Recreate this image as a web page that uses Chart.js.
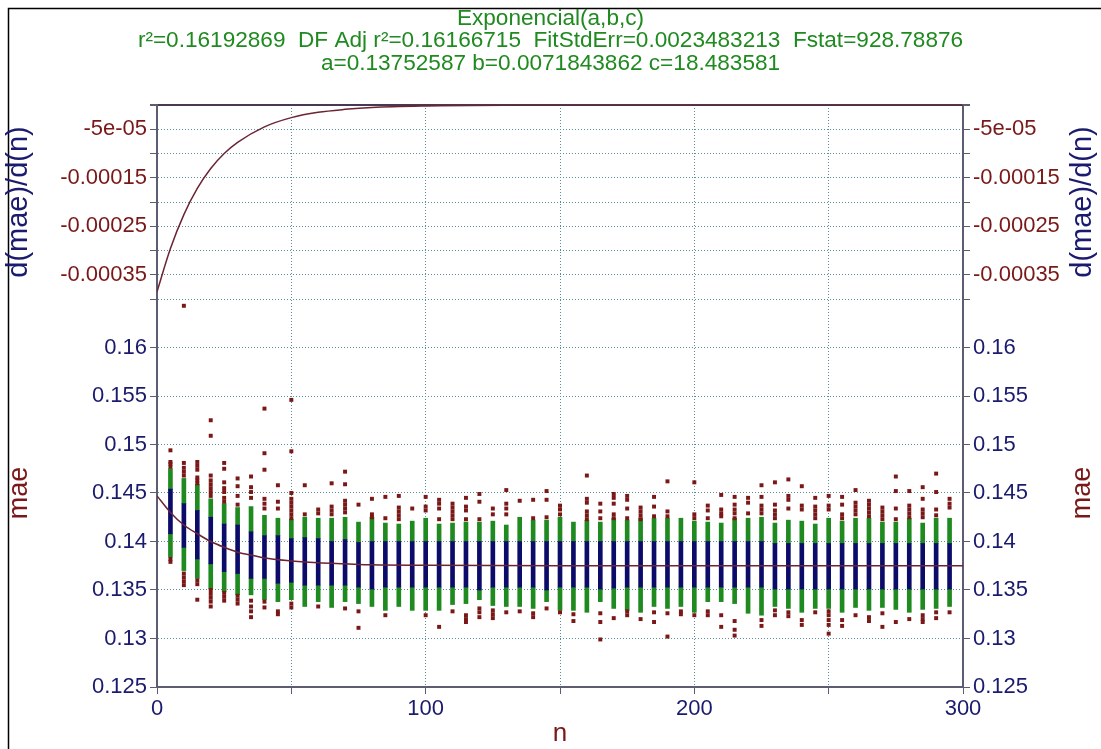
<!DOCTYPE html>
<html>
<head>
<meta charset="utf-8">
<script src="https://cdn.jsdelivr.net/npm/chart.js@4.4.1/dist/chart.umd.min.js"></script>
<style>
  html, body { margin: 0; padding: 0; background: #fff; }
</style>
</head>
<body>
<canvas id="fitchart" width="1101" height="749"></canvas>
<script>
// sample sizes (one column of points per n)
var nCols = [5,10,15,20,25,30,35,40,45,50,55,60,65,70,75,80,85,90,95,100,
             105,110,115,120,125,130,135,140,145,150,155,160,165,170,175,180,185,190,195,200,
             205,210,215,220,225,230,235,240,245,250,255,260,265,270,275,280,285,290,295];

// extent of the green / blue bands in every column
var greenHi = [0.1475,0.1465,0.1459,0.1444,0.1439,0.1435,0.1436,0.1427,0.1424,0.1423,
               0.1425,0.1424,0.1424,0.1425,0.1420,0.1425,0.1419,0.1418,0.1421,0.1424,
               0.1418,0.1419,0.1420,0.1420,0.1421,0.1417,0.1425,0.1422,0.1422,0.1425,
               0.1420,0.1422,0.1420,0.1424,0.1422,0.1424,0.1424,0.1424,0.1424,0.1421,
               0.1420,0.1419,0.1424,0.1424,0.1425,0.1419,0.1422,0.1421,0.1418,0.1424,
               0.1421,0.1424,0.1424,0.1420,0.1420,0.1424,0.1419,0.1424,0.1424];
var blueHi = [0.1454,0.1439,0.1432,0.1425,0.1418,0.1417,0.1410,0.1406,0.1406,0.1403,
              0.1404,0.1403,0.1400,0.1402,0.1399,0.1400,0.1400,0.1400,0.1400,0.1400,
              0.1400,0.1400,0.1400,0.1400,0.1400,0.1400,0.1400,0.1400,0.1400,0.1400,
              0.1400,0.1400,0.1400,0.1400,0.1400,0.1400,0.1400,0.1400,0.1400,0.1400,
              0.1400,0.1400,0.1400,0.1400,0.1400,0.1398,0.1398,0.1398,0.1398,0.1398,
              0.1398,0.1398,0.1398,0.1398,0.1398,0.1398,0.1398,0.1398,0.1398];
var blueLo = [0.1408,0.1394,0.1382,0.1377,0.1369,0.1367,0.1362,0.1362,0.1357,0.1358,
              0.1355,0.1355,0.1355,0.1355,0.1353,0.1351,0.1353,0.1353,0.1353,0.1353,
              0.1353,0.1353,0.1353,0.1350,0.1353,0.1353,0.1353,0.1353,0.1350,0.1353,
              0.1353,0.1353,0.1351,0.1352,0.1353,0.1353,0.1353,0.1353,0.1353,0.1353,
              0.1353,0.1353,0.1353,0.1353,0.1353,0.1351,0.1351,0.1351,0.1351,0.1351,
              0.1351,0.1351,0.1351,0.1351,0.1351,0.1351,0.1351,0.1351,0.1351];
var greenLo = [0.1384,0.1370,0.1362,0.1351,0.1348,0.1345,0.1345,0.1340,0.1338,0.1340,
               0.1333,0.1338,0.1332,0.1338,0.1336,0.1333,0.1329,0.1333,0.1329,0.1329,
               0.1329,0.1335,0.1336,0.1340,0.1334,0.1333,0.1333,0.1331,0.1338,0.1329,
               0.1329,0.1327,0.1338,0.1331,0.1329,0.1327,0.1333,0.1331,0.1333,0.1327,
               0.1338,0.1338,0.1336,0.1326,0.1324,0.1333,0.1331,0.1327,0.1331,0.1331,
               0.1327,0.1332,0.1329,0.1332,0.1330,0.1327,0.1330,0.1331,0.1333];

// red points outside the bands, one list per column
var outliers = [
  [0.1494,0.1482,0.1480,0.1477,0.1382,0.1379],
  [0.1643,0.1481,0.1476,0.1472,0.1468,0.1367,0.1363,0.1359,0.1355],
  [0.1482,0.1478,0.1474,0.1466,0.1463,0.1460,0.1360,0.1356,0.1340],
  [0.1525,0.1509,0.1468,0.1463,0.1459,0.1455,0.1451,0.1447,0.1350,0.1346,0.1342,0.1338,0.1333],
  [0.1481,0.1475,0.1461,0.1455,0.1451,0.1445,0.1441,0.1347,0.1343,0.1339],
  [0.1465,0.1457,0.1447,0.1438,0.1344,0.1340,0.1336],
  [0.1467,0.1456,0.1451,0.1445,0.1339,0.1333,0.1328,0.1322],
  [0.1537,0.1491,0.1474,0.1444,0.1439,0.1434,0.1338,0.1332],
  [0.1458,0.1441,0.1434,0.1328,0.1325],
  [0.1546,0.1493,0.1450,0.1444,0.1440,0.1436,0.1432,0.1428,0.1424,0.1336,0.1332],
  [0.1458,0.1428],
  [0.1433,0.1429,0.1333],
  [0.1460,0.1436,0.1432,0.1428],
  [0.1472,0.1459,0.1442,0.1438,0.1434,0.1430,0.1331],
  [0.1438,0.1328,0.1311],
  [0.1444,0.1428,0.1425],
  [0.1446,0.1424,0.1324],
  [0.1447,0.1435,0.1431,0.1427,0.1423],
  [0.1434],
  [0.1446,0.1436,0.1432,0.1324],
  [0.1443,0.1439,0.1434,0.1423,0.1312],
  [0.1439,0.1435,0.1431,0.1427,0.1423,0.1328],
  [0.1445,0.1436,0.1432,0.1423,0.1324,0.1320,0.1317],
  [0.1449,0.1441,0.1423,0.1331,0.1327,0.1322],
  [0.1434,0.1428,0.1329,0.1325,0.1321],
  [0.1453,0.1439,0.1434,0.1428,0.1327],
  [0.1442,0.1328],
  [0.1443,0.1424,0.1326,0.1322],
  [0.1452,0.1443,0.1425,0.1331],
  [0.1437,0.1433,0.1428,0.1327],
  [0.1325,0.1318],
  [0.1468,0.1444,0.1440,0.1431,0.1427,0.1423],
  [0.1439,0.1431,0.1424,0.1326,0.1317,0.1299],
  [0.1449,0.1445,0.1439,0.1428,0.1424,0.1321],
  [0.1447,0.1443,0.1434,0.1424,0.1328,0.1324],
  [0.1435,0.1431,0.1427,0.1423,0.1320],
  [0.1446,0.1436,0.1426,0.1327,0.1317],
  [0.1462,0.1431,0.1426,0.1326,0.1302],
  [0.1328,0.1325],
  [0.1461,0.1428,0.1424,0.1324],
  [0.1437,0.1432,0.1424,0.1328,0.1324],
  [0.1448,0.1433,0.1429,0.1426,0.1324,0.1312],
  [0.1446,0.1438,0.1433,0.1429,0.1424,0.1318,0.1309,0.1303],
  [0.1445,0.1440,0.1429],
  [0.1458,0.1446,0.1437,0.1433,0.1429,0.1319,0.1313],
  [0.1461,0.1438,0.1432,0.1428,0.1424,0.1329,0.1324],
  [0.1464,0.1447,0.1443,0.1434,0.1327,0.1323],
  [0.1457,0.1437,0.1433,0.1319,0.1314],
  [0.1445,0.1436,0.1432,0.1428,0.1424,0.1327],
  [0.1447,0.1437,0.1433,0.1328,0.1324,0.1319,0.1314,0.1305],
  [0.1446,0.1438,0.1428,0.1424,0.1319,0.1313],
  [0.1453,0.1440,0.1436,0.1432,0.1428,0.1324],
  [0.1442,0.1438,0.1434,0.1430,0.1426,0.1322,0.1318],
  [0.1435,0.1431,0.1427,0.1423,0.1326,0.1312],
  [0.1467,0.1452,0.1434,0.1423,0.1317],
  [0.1452,0.1437,0.1433,0.1429,0.1425,0.1320],
  [0.1456,0.1444,0.1433,0.1429,0.1425,0.1324,0.1320,0.1317],
  [0.1470,0.1451,0.1433,0.1427,0.1327,0.1321],
  [0.1444,0.1439,0.1435,0.1327]
];

// fitted curve
var fitN   = [0,5,10,15,20,25,30,35,40,50,60,70,80,100,150,200,250,300];
var fitMae = [0.1447,0.1430,0.1417,0.1408,0.1400,0.1394,0.1389,0.1386,0.1383,0.1380,
              0.1378,0.1377,0.1376,0.13755,0.1375,0.1375,0.1375,0.1375];

// derivative of the fit (upper panel)
var derivN   = [0,5,10,15,20,25,30,40,50,60,70,80,100,150,200,300];
var derivVal = [-0.000385,-0.000296,-0.000226,-0.000172,-0.000131,-0.000100,-0.000077,-0.000045,
                -0.000026,-0.000015,-0.000009,-0.000005,-0.000002,0,0,0];

var xTickLabels = ['0','100','200','300'];
var maeTickLabels = ['0.125','0.13','0.135','0.14','0.145','0.15','0.155','0.16'];
var derivTickLabels = ['-5e-05','-0.00015','-0.00025','-0.00035'];

var titleText = 'Exponencial(a,b,c)';
var statLines = ['r\u00b2=0.16192869  DF Adj r\u00b2=0.16166715  FitStdErr=0.0023483213  Fstat=928.78876',
                 'a=0.13752587 b=0.0071843862 c=18.483581'];

var navy = '#1a1a6e', dred = '#7a1818', green = '#1f8a1f', blue = '#0b0b6a';
var gridCol = '#5a8f98', axisCol = '#5c5c72', curveCol = '#6a2434';
var fontFam = "'Liberation Sans', Arial, sans-serif";

function pairs(xs, ys) {
    return xs.map(function(x, i) { return {x: x, y: ys[i]}; });
}
function bands(lo, hi) {
    return nCols.map(function(n, i) { return {x: n, y: [lo[i], hi[i]]}; });
}
var redPts = [];
for (var i = 0; i < nCols.length; i++) {
    for (var j = 0; j < outliers[i].length; j++) {
        redPts.push({x: nCols[i], y: outliers[i][j]});
    }
}

function labelFrom(list) {
    return function(v) {
        for (var k = 0; k < list.length; k++) {
            if (Math.abs(v - parseFloat(list[k])) < 1e-9) return list[k];
        }
        return '';
    };
}

var frame = {
    id: 'frame',
    beforeDraw: function(chart) {
        var c = chart.ctx;
        c.save();
        c.fillStyle = '#fff';
        c.fillRect(0, 0, chart.width, chart.height);
        c.strokeStyle = '#000';
        c.lineWidth = 1.5;
        c.beginPath();
        c.moveTo(8.5, chart.height); c.lineTo(8.5, 8.5); c.lineTo(chart.width, 8.5);
        c.stroke();
        c.restore();
    },
    afterDraw: function(chart) {
        // right-hand axis titles read bottom-to-top like the left ones
        var c = chart.ctx;
        [['ydR', 'd(mae)/d(n)', navy, 29], ['ymR', 'mae', dred, 27]].forEach(function(t) {
            var s = chart.scales[t[0]];
            c.save();
            c.translate(s.right - 18, (s.top + s.bottom) / 2);
            c.rotate(-Math.PI / 2);
            c.textAlign = 'center';
            c.textBaseline = 'middle';
            c.fillStyle = t[2];
            c.font = t[3] + 'px ' + fontFam;
            c.fillText(t[1], 0, 0);
            c.restore();
        });
    }
};

function yAxis(pos, stack, weight, sw, min, max, step, labels, tickCol, onArea, title) {
    var ax = {
        type: 'linear', position: pos, stack: stack, stackWeight: sw, weight: weight,
        min: min, max: max, beginAtZero: false, offset: false, stacked: false,
        grid: {
            drawOnChartArea: onArea, tickLength: 7, tickColor: axisCol,
            color: function(c) { return c.tick && Math.abs(c.tick.value) < 1e-12 ? '#4a3852' : gridCol; },
            lineWidth: function(c) { return c.tick && Math.abs(c.tick.value) < 1e-12 ? 2 : 1; }
        },
        border: {
            color: axisCol, width: 2,
            dash: function(c) { return c.tick && Math.abs(c.tick.value) < 1e-12 ? [] : [1, 2]; }
        },
        ticks: { stepSize: step, color: tickCol, font: {size: 22}, padding: 3, autoSkip: false,
                 callback: labelFrom(labels) },
        afterFit: function(s) { s.width = pos === 'left' ? 157 : 138; }
    };
    if (title) ax.title = title;
    return ax;
}

var ctx = document.getElementById('fitchart');
var fitChart = new Chart(ctx, {
    type: 'scatter',
    data: {
        datasets: [{
            type: 'line', data: pairs(fitN, fitMae), yAxisID: 'ym',
            borderColor: curveCol, borderWidth: 1.5, pointRadius: 0,
            cubicInterpolationMode: 'monotone', fill: false
        }, {
            type: 'line', data: pairs(derivN, derivVal), yAxisID: 'yd',
            borderColor: curveCol, borderWidth: 1.5, pointRadius: 0,
            cubicInterpolationMode: 'monotone', fill: false
        }, {
            type: 'scatter', data: redPts, yAxisID: 'ym',
            pointStyle: 'rect', pointRadius: 2.8, borderWidth: 0,
            backgroundColor: dred
        }, {
            type: 'bar', data: bands(blueLo, blueHi), yAxisID: 'ym', stack: 'col',
            backgroundColor: blue, barThickness: 4, borderWidth: 0
        }, {
            type: 'bar', data: bands(blueHi, greenHi), yAxisID: 'ym', stack: 'col',
            backgroundColor: green, barThickness: 4, borderWidth: 0
        }, {
            type: 'bar', data: bands(greenLo, blueLo), yAxisID: 'ym', stack: 'col',
            backgroundColor: green, barThickness: 4, borderWidth: 0
        }]
    },
    options: {
        responsive: false,
        animation: false,
        layout: { padding: { top: 7, left: 0, right: 0, bottom: 0 } },
        font: { family: fontFam },
        plugins: {
            legend: { display: false },
            tooltip: { enabled: false },
            title: {
                display: true, text: titleText, color: green,
                font: { family: fontFam, size: 22.6, weight: 'normal', lineHeight: 1.0 },
                padding: { top: 0, bottom: 0 }
            },
            subtitle: {
                display: true, text: statLines, color: green,
                font: { family: fontFam, size: 22.6, lineHeight: 1.0 },
                padding: { top: 0, bottom: 30.2 }
            }
        },
        scales: {
            x: {
                type: 'linear', position: 'bottom', min: 0, max: 300, offset: false,
                grid: { offset: false, color: gridCol, tickColor: axisCol, tickLength: 7 },
                border: { color: axisCol, width: 2, dash: [1, 2] },
                ticks: { stepSize: 50, color: navy, font: {family: fontFam, size: 22}, padding: 2,
                         maxRotation: 0, autoSkip: false, callback: labelFrom(xTickLabels) },
                title: { display: true, text: 'n', color: dred,
                         font: {family: fontFam, size: 26}, padding: 0 },
                afterFit: function(s) { s.height = 62; }
            },
            yd: yAxis('left', 'left', 2, 1, -0.0004, 0, 0.00005, derivTickLabels, dred, true,
                      { display: true, text: 'd(mae)/d(n)', color: navy,
                        font: {family: fontFam, size: 29}, padding: {top: 2, bottom: 0} }),
            ym: yAxis('left', 'left', 1, 2, 0.125, 0.165, 0.005, maeTickLabels, navy, true,
                      { display: true, text: 'mae', color: dred,
                        font: {family: fontFam, size: 27}, padding: {top: 3, bottom: 0} }),
            ydR: yAxis('right', 'right', 1, 1, -0.0004, 0, 0.00005, derivTickLabels, dred, false, null),
            ymR: yAxis('right', 'right', 2, 2, 0.125, 0.165, 0.005, maeTickLabels, navy, false, null)
        }
    },
    plugins: [frame]
});
</script>
</body>
</html>
